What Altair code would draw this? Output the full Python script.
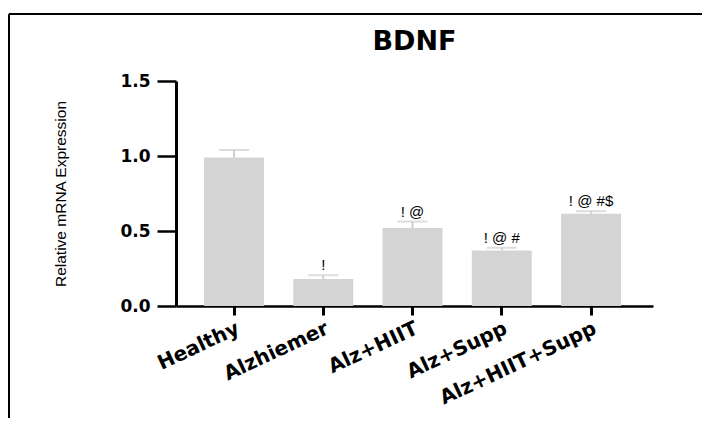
import altair as alt
import pandas as pd

groups = ["Healthy", "Alzhiemer", "Alz+HIIT", "Alz+Supp", "Alz+HIIT+Supp"]
means = [0.99, 0.18, 0.52, 0.37, 0.615]
sems = [0.05, 0.025, 0.043, 0.018, 0.017]
marks = ["", "!", "! @", "! @ #", "! @ #$"]

df = pd.DataFrame({
    "group": groups,
    "mean": means,
    "upper": [m + s for m, s in zip(means, sems)],
    "sig": marks,
})

W, H = 477, 225

xenc = alt.X(
    "group:N",
    sort=groups,
    scale=alt.Scale(paddingInner=0.328, paddingOuter=0.336, align=0.467),
    axis=alt.Axis(
        title=None,
        labelAngle=-25,
        labelAlign="right",
        labelBaseline="top",
        labelFont="DejaVu Sans",
        labelFontWeight="bold",
        labelFontSize=20,
        labelColor="black",
        labelPadding=3,
        tickSize=9,
        tickWidth=3,
        tickColor="black",
        domainColor="black",
        domainWidth=2.5,
    ),
)

yscale = alt.Scale(domain=[0, 1.5], nice=False)

base = alt.Chart(df)

bars = base.mark_bar(color="#d4d4d4").encode(
    x=xenc,
    y=alt.Y(
        "mean:Q",
        scale=yscale,
        axis=alt.Axis(
            title="Relative mRNA Expression",
            titleFont="Liberation Sans",
            titleFontWeight="normal",
            titleFontSize=15.5,
            titleColor="black",
            titlePadding=51,
            values=[0, 0.5, 1.0, 1.5],
            format=".1f",
            labelFont="DejaVu Sans",
            labelFontWeight="bold",
            labelFontSize=17,
            labelColor="black",
            labelPadding=7,
            tickSize=19,
            tickWidth=2.5,
            tickColor="black",
            domainColor="black",
            domainWidth=3,
            grid=False,
        ),
    ),
)

err_line = base.mark_rule(color="#cfcfcf", strokeWidth=2).encode(
    x=alt.X("group:N", sort=groups),
    y=alt.Y("mean:Q", scale=yscale),
    y2="upper:Q",
)

err_cap = base.mark_tick(color="#cfcfcf", thickness=2, size=30, orient="horizontal").encode(
    x=alt.X("group:N", sort=groups),
    y=alt.Y("upper:Q", scale=yscale),
)

labels = base.mark_text(
    font="Liberation Sans", fontSize=15, color="black", baseline="alphabetic", dy=-5
).encode(
    x=alt.X("group:N", sort=groups),
    y=alt.Y("upper:Q", scale=yscale),
    text="sig:N",
)

frame_df = pd.DataFrame({"k": [0]})
frame_v = alt.Chart(frame_df).mark_rule(color="black", strokeWidth=2).encode(
    x=alt.value(-167), y=alt.value(-67), y2=alt.value(337)
)
frame_h = alt.Chart(frame_df).mark_rule(color="black", strokeWidth=2).encode(
    x=alt.value(-167), x2=alt.value(526), y=alt.value(-67)
)

chart = (
    alt.layer(bars, err_line, err_cap, labels, frame_v, frame_h)
    .properties(
        width=W,
        height=H,
        padding={"left": 0, "top": 5, "right": 0, "bottom": 0},
        title=alt.TitleParams(
            "BDNF",
            font="DejaVu Sans",
            fontSize=27,
            fontWeight="bold",
            color="black",
            frame="group",
            anchor="middle",
            offset=-64,
            baseline="alphabetic",
        ),
    )
    .configure(background="white", view=alt.ViewConfig(strokeWidth=0))
)

chart.save("out.html", embed_options={"renderer": "svg", "actions": False})
